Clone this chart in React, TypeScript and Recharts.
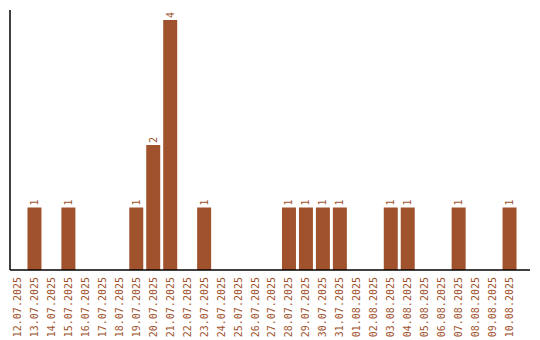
import { Bar, BarChart, LabelList, XAxis, YAxis } from 'recharts'

const dates = [
  '12.07.2025', '13.07.2025', '14.07.2025', '15.07.2025', '16.07.2025', '17.07.2025',
  '18.07.2025', '19.07.2025', '20.07.2025', '21.07.2025', '22.07.2025', '23.07.2025',
  '24.07.2025', '25.07.2025', '26.07.2025', '27.07.2025', '28.07.2025', '29.07.2025',
  '30.07.2025', '31.07.2025', '01.08.2025', '02.08.2025', '03.08.2025', '04.08.2025',
  '05.08.2025', '06.08.2025', '07.08.2025', '08.08.2025', '09.08.2025', '10.08.2025',
]
const counts = [0, 1, 0, 1, 0, 0, 0, 1, 2, 4, 0, 1, 0, 0, 0, 0, 1, 1, 1, 1, 0, 0, 1, 1, 0, 0, 1, 0, 0, 1]

const data = dates.map((d, i) => ({ date: d, count: counts[i] }))

const brown = '#A0522D'
const mono = '"DejaVu Sans Mono", monospace'

// Dates written bottom-to-top under each bar; axis sits at y=270, text starts ~277.
const DateTick = (props: { x?: number; payload?: { value: string } }) => {
  const { x = 0, payload } = props
  const px = x + 3.5
  const py = 277
  return (
    <text
      x={px}
      y={py}
      transform={`rotate(-90, ${px}, ${py})`}
      textAnchor="end"
      fill={brown}
      fontSize={10}
      fontFamily={mono}
    >
      {payload?.value}
    </text>
  )
}

const renderLabel = (props: { x?: string | number; y?: string | number; width?: string | number; value?: unknown }) => {
  const { x, y, width, value } = props
  if (!value) return null
  const px = Number(x) + Number(width) / 2 + 3.5
  const py = Number(y) - 2
  return (
    <text
      x={px}
      y={py}
      transform={`rotate(-90, ${px}, ${py})`}
      textAnchor="start"
      fill={brown}
      fontSize={10}
      fontFamily={mono}
    >
      {String(value)}
    </text>
  )
}

export default function App() {
  return (
    <div style={{ position: 'absolute', left: 0, top: 0, background: '#fff' }}>
      <BarChart
        width={540}
        height={340}
        data={data}
        margin={{ top: 10, right: 10, left: 8, bottom: 0 }}
        barCategoryGap={1.5}
      >
        <XAxis
          dataKey="date"
          interval={0}
          height={70}
          tickLine={false}
          axisLine={{ stroke: '#000', strokeWidth: 1.5 }}
          tick={<DateTick />}
          padding={{ left: -1, right: 12 }}
        />
        <YAxis
          width={2}
          domain={[0, 4.16]}
          tick={false}
          tickLine={false}
          axisLine={{ stroke: '#000', strokeWidth: 1.5 }}
        />
        <Bar dataKey="count" fill={brown} isAnimationActive={false}>
          <LabelList dataKey="count" content={renderLabel} />
        </Bar>
      </BarChart>
    </div>
  )
}
